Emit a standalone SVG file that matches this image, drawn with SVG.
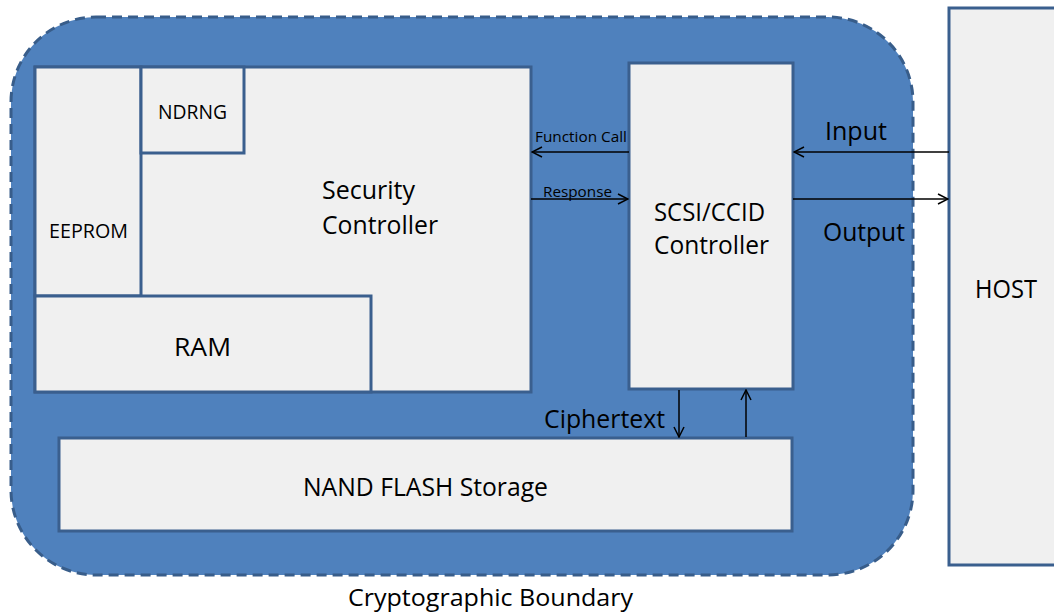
<svg xmlns="http://www.w3.org/2000/svg" width="1054" height="614" viewBox="0 0 1054 614">
<defs>
<style>
.box{fill:#F0F0F0;stroke:#3A5F8E;stroke-width:3}
.t{font-family:"Open Sans","Liberation Sans",sans-serif;fill:#000;text-anchor:start}
.L{font-size:25px}
.M{font-size:20px}
.S{font-size:15px}
.c{stroke:#000;stroke-width:1.5;fill:none}
</style>
<marker id="ah" viewBox="0 0 12 12" refX="11" refY="6" markerWidth="12" markerHeight="12" markerUnits="userSpaceOnUse" orient="auto">
<path d="M1,1 L11,6 L1,11" fill="none" stroke="#000" stroke-width="1.5"/>
</marker>
</defs>
<rect width="1054" height="614" fill="#fff"/>
<g id="boundary">
<rect x="11" y="17" width="902" height="558" rx="85" ry="85" fill="#4F81BD" stroke="#385D8A" stroke-width="3" stroke-dasharray="10,6"/>
<text class="t" x="348" y="606" font-size="23" textLength="285" lengthAdjust="spacingAndGlyphs">Cryptographic Boundary</text>
</g>
<g id="host">
<rect class="box" x="949" y="8" width="110" height="557"/>
<text class="t L" x="975" y="298" textLength="62" lengthAdjust="spacingAndGlyphs">HOST</text>
</g>
<g id="security-controller">
<rect class="box" x="35" y="67" width="496" height="325"/>
<text class="t L" x="322" y="199" textLength="93" lengthAdjust="spacingAndGlyphs">Security</text>
<text class="t L" x="322" y="234" textLength="116" lengthAdjust="spacingAndGlyphs">Controller</text>
</g>
<g id="eeprom">
<rect class="box" x="35" y="67" width="106" height="229"/>
<text class="t M" x="49" y="238" textLength="79" lengthAdjust="spacingAndGlyphs">EEPROM</text>
</g>
<g id="ndrng">
<rect class="box" x="141" y="67" width="103" height="86"/>
<text class="t M" x="158" y="119" textLength="69" lengthAdjust="spacingAndGlyphs">NDRNG</text>
</g>
<g id="ram">
<rect class="box" x="35" y="296" width="336" height="96"/>
<text class="t L" x="174" y="356" textLength="57" lengthAdjust="spacingAndGlyphs">RAM</text>
</g>
<g id="scsi">
<rect class="box" x="629" y="63" width="164" height="326"/>
<text class="t L" x="654" y="221" textLength="111" lengthAdjust="spacingAndGlyphs">SCSI/CCID</text>
<text class="t L" x="654" y="254" textLength="115" lengthAdjust="spacingAndGlyphs">Controller</text>
</g>
<g id="nand">
<rect class="box" x="59" y="438" width="733" height="93"/>
<text class="t L" x="303" y="496" textLength="245" lengthAdjust="spacingAndGlyphs">NAND FLASH Storage</text>
</g>
<g id="connectors">
<line class="c" x1="629" y1="152" x2="532" y2="152" marker-end="url(#ah)"/>
<line class="c" x1="531" y1="199" x2="628" y2="199" marker-end="url(#ah)"/>
<line class="c" x1="949" y1="152" x2="794" y2="152" marker-end="url(#ah)"/>
<line class="c" x1="793" y1="199" x2="948" y2="199" marker-end="url(#ah)"/>
<line class="c" x1="679" y1="390" x2="679" y2="437" marker-end="url(#ah)"/>
<line class="c" x1="746" y1="437" x2="746" y2="390" marker-end="url(#ah)"/>
<text class="t S" x="535" y="142" textLength="92" lengthAdjust="spacingAndGlyphs">Function Call</text>
<text class="t S" x="543" y="197" textLength="69" lengthAdjust="spacingAndGlyphs">Response</text>
<text class="t L" x="825" y="140" textLength="62" lengthAdjust="spacingAndGlyphs">Input</text>
<text class="t L" x="823" y="241" textLength="82" lengthAdjust="spacingAndGlyphs">Output</text>
<text class="t L" x="544" y="428" textLength="121" lengthAdjust="spacingAndGlyphs">Ciphertext</text>
</g>
</svg>
